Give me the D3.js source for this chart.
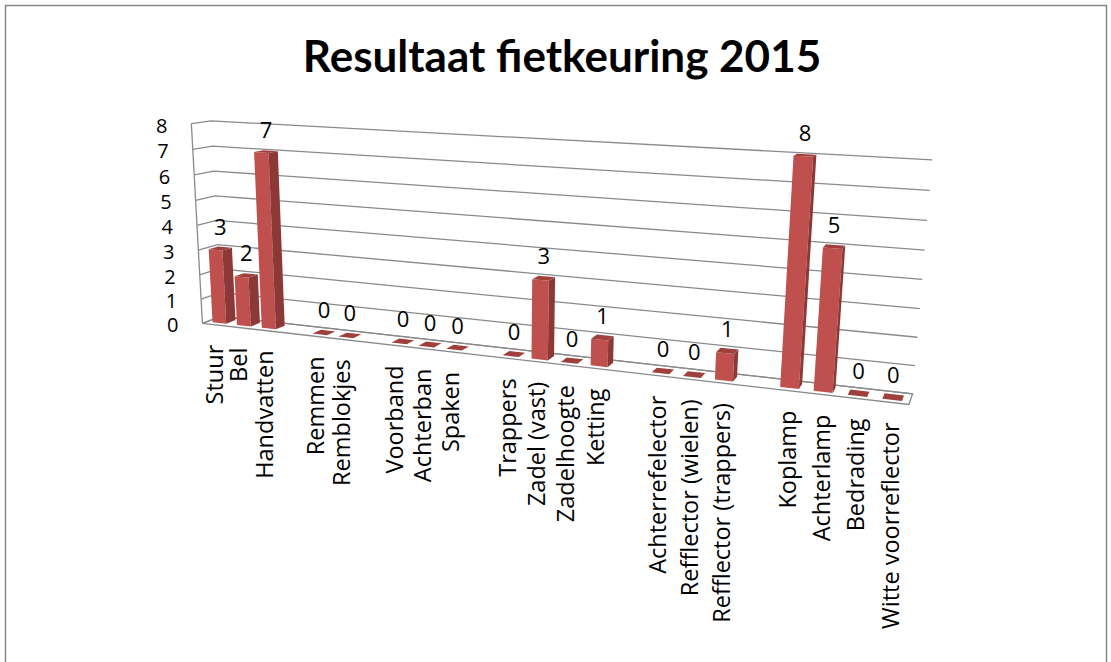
<!DOCTYPE html>
<html>
<head>
<meta charset="utf-8">
<script src="https://cdn.jsdelivr.net/npm/d3@7"></script>
<style>
  body { margin: 0; background: #fff; }
  text { font-family: 'Open Sans', Lato, sans-serif; fill: #000; }
</style>
</head>
<body>
<svg id="chart" width="1111" height="662"></svg>
<script>
const title = 'Resultaat fietkeuring 2015'
// blank names are the empty spacer categories of the sheet
const categories = ['Stuur', 'Bel', 'Handvatten', '', 'Remmen', 'Remblokjes', '', 'Voorband', 'Achterban', 'Spaken', '',
  'Trappers', 'Zadel (vast)', 'Zadelhoogte', 'Ketting', '', 'Achterrefelector', 'Refflector (wielen)', 'Refflector (trappers)', '',
  'Koplamp', 'Achterlamp', 'Bedrading', 'Witte voorreflector']
const values = [3, 2, 7, null, 0, 0, null, 0, 0, 0, null, 0, 3, 0, 1, null, 0, 0, 1, null, 8, 5, 0, 0]
const yTicks = [0, 1, 2, 3, 4, 5, 6, 7, 8]

const svg = d3.select('#chart')

// where the corners of the 3d box land on screen: [x, y, z, screenX, screenY]
// x, y, z are 0..1 (category axis, value axis, depth front->back)
const anchors = [
  [0, 1, 0, 188, 125], [0, 1, 1, 215, 120], [1, 1, 1, 932, 159],
  [0, 0, 0, 206, 323], [0, 0, 1, 218, 318], [1, 0, 1, 912, 394], [1, 0, 0, 909, 405],
  [1, 0.125, 1, 915, 366], [0, 0.125, 0, 203, 297], [0, 0.125, 1, 217, 293],
  [0, 0.875, 0, 189, 151], [0, 0.875, 1, 216, 145],
  [8.5 / 24, 0, 0, 424, 348], [12.5 / 24, 0, 0, 536, 361], [21.5 / 24, 0, 0, 822, 395]
]

function solve(M) {
  const n = M.length
  for (let c = 0; c < n; c++) {
    let p = c
    for (let r = c + 1; r < n; r++) if (Math.abs(M[r][c]) > Math.abs(M[p][c])) p = r
    ;[M[c], M[p]] = [M[p], M[c]]
    for (let r = 0; r < n; r++) {
      if (r === c) continue
      const f = M[r][c] / M[c][c]
      for (let k = c; k <= n; k++) M[r][k] -= f * M[c][k]
    }
  }
  return M.map((row, i) => row[n] / row[i])
}

// least squares fit of a 3x4 perspective matrix
function fitProjection(pts) {
  const cu = 555, cv = 300, s = 400
  const A = [], b = []
  pts.forEach(([X, Y, Z, u0, v0]) => {
    const u = (u0 - cu) / s, v = (v0 - cv) / s
    A.push([X, Y, Z, 1, 0, 0, 0, 0, -u * X, -u * Y, -u * Z]); b.push(u)
    A.push([0, 0, 0, 0, X, Y, Z, 1, -v * X, -v * Y, -v * Z]); b.push(v)
  })
  const n = 11
  const M = d3.range(n).map(i => {
    const row = new Array(n + 1).fill(0)
    A.forEach((r, k) => {
      for (let j = 0; j < n; j++) row[j] += r[i] * r[j]
      row[n] += r[i] * b[k]
    })
    return row
  })
  const p = solve(M)
  return ([X, Y, Z]) => {
    const w = p[8] * X + p[9] * Y + p[10] * Z + 1
    return [cu + s * (p[0] * X + p[1] * Y + p[2] * Z + p[3]) / w,
            cv + s * (p[4] * X + p[5] * Y + p[6] * Z + p[7]) / w]
  }
}

const proj = fitProjection(anchors)

const x = d3.scaleBand()
  .domain(d3.range(categories.length))
  .range([0, 1])
  .paddingInner(0.44)
  .paddingOuter(0.22)

const y = d3.scaleLinear().domain([0, 8]).range([0, 1])

const zFront = 0.25, zBack = 0.75

const line = d3.line()
const poly = pts => line(pts.map(proj)) + 'Z'

// chart border
svg.append('rect')
  .attr('x', 5.5).attr('y', 5.5)
  .attr('width', 1101).attr('height', 700)
  .attr('fill', 'none')
  .attr('stroke', '#878787')
  .attr('stroke-width', 1.5)

svg.append('text')
  .attr('x', 562).attr('y', 72)
  .attr('text-anchor', 'middle')
  .style('font-family', 'Lato, sans-serif')
  .style('font-size', '44px')
  .style('font-weight', 'bold')
  .text(title)

const grid = svg.append('g')
  .attr('fill', 'none')
  .attr('stroke', '#8a8a8a')
  .attr('stroke-width', 1.3)

// side wall and back wall gridlines
grid.selectAll('.grid')
  .data(yTicks)
  .join('path')
  .attr('class', 'grid')
  .attr('d', t => line([[0, y(t), 0], [0, y(t), 1], [1, y(t), 1]].map(proj)))

grid.append('path').attr('d', line([[0, 0, 0], [0, 1, 0]].map(proj)))
grid.append('path').attr('d', poly([[0, 0, 0], [1, 0, 0], [1, 0, 1], [0, 0, 1]]))

// y tick labels
svg.append('g').selectAll('text')
  .data(yTicks)
  .join('text')
  .attr('x', t => proj([0, y(t), 0])[0] - 24)
  .attr('y', t => proj([0, y(t), 0])[1] + 9)
  .attr('text-anchor', 'end')
  .style('font-size', '20px')
  .text(t => t)

// bars, left to right so nearer ones overlap
const bars = categories.map((c, i) => ({ i, value: values[i] })).filter(d => d.value !== null)

const barG = svg.append('g').selectAll('g')
  .data(bars)
  .join('g')

barG.each(function (d) {
  const g = d3.select(this)
  const x0 = x(d.i), x1 = x(d.i) + x.bandwidth()
  const h = y(d.value)
  g.append('path')
    .attr('fill', '#C0504D')
    .attr('d', poly([[x0, 0, zFront], [x1, 0, zFront], [x1, h, zFront], [x0, h, zFront]]))
  g.append('path')
    .attr('fill', '#8C3836')
    .attr('d', poly([[x1, 0, zFront], [x1, 0, zBack], [x1, h, zBack], [x1, h, zFront]]))
  g.append('path')
    .attr('fill', '#A0403D')
    .attr('d', poly([[x0, h, zFront], [x1, h, zFront], [x1, h, zBack], [x0, h, zBack]]))
})

// value labels
svg.append('g').selectAll('text')
  .data(bars)
  .join('text')
  .attr('x', d => proj([x(d.i) + x.bandwidth() / 2, y(d.value), 0.5])[0])
  .attr('y', d => proj([x(d.i) + x.bandwidth() / 2, y(d.value), 0.5])[1] - 14)
  .attr('text-anchor', 'middle')
  .style('font-size', '22px')
  .text(d => d.value)

// category labels, rotated
svg.append('g').selectAll('text')
  .data(categories.map((c, i) => ({ c, i })).filter(d => d.c))
  .join('text')
  .attr('transform', d => {
    const p = proj([x(d.i) + x.bandwidth() / 2, 0, 0])
    return `translate(${p[0]},${p[1] + 20}) rotate(-90)`
  })
  .attr('dy', '0.35em')
  .attr('text-anchor', 'end')
  .style('font-size', '23.5px')
  .text(d => d.c)
</script>
</body>
</html>
